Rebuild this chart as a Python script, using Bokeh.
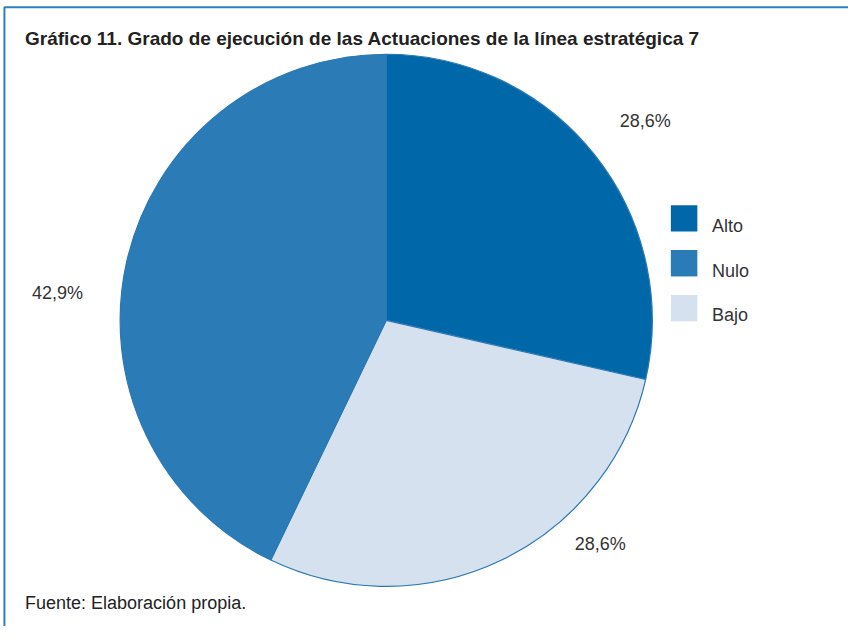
import math
from bokeh.plotting import figure
from bokeh.models import ColumnDataSource, Range1d
from bokeh.core.properties import value
from bokeh.embed import file_html
from bokeh.resources import INLINE

# ---- data ----
categories = ["Alto", "Bajo", "Nulo"]          # clockwise order from 12 o'clock
percentages = [28.6, 28.6, 42.9]
colors = ["#0068a8", "#d6e1ef", "#2b7cb6"]
legend_order = ["Alto", "Nulo", "Bajo"]
pct_labels = ["28,6%", "28,6%", "42,9%"]
title_text = "Gráfico 11. Grado de ejecución de las Actuaciones de la línea estratégica 7"
source_text = "Fuente: Elaboración propia."

W, H = 848, 626
SX, SY = W / 864, H / 642
FONT = "Liberation Sans"

def fx(x):  # reference px -> data x
    return x * SX

def fy(y):  # reference px -> data y
    return H - y * SY

total = sum(percentages)
starts, ends = [], []
a = math.pi / 2
for v in percentages:
    starts.append(a)
    a -= 2 * math.pi * v / total
    ends.append(a)

cx, cy, r = fx(393), fy(328), 272 * (SX + SY) / 2

src = ColumnDataSource(dict(cat=categories, start=starts, end=ends, color=colors))

p = figure(width=W, height=H, output_backend="svg", toolbar_location=None,
           x_range=Range1d(0, W), y_range=Range1d(0, H), min_border=0)
p.axis.visible = False
p.grid.visible = False
p.outline_line_color = None
p.background_fill_color = "white"

p.wedge(x=cx, y=cy, radius=r, start_angle="start", end_angle="end",
        direction="clock", fill_color="color", line_color="#2a78b4",
        line_width=1.2, source=src)

# frame border (top and left)
p.line(x=[fx(4), fx(4), W], y=[0, fy(7), fy(7)], line_color="#2f7fbf", line_width=2)

# title and source
p.text(x=[fx(25)], y=[fy(39)], text=[title_text], text_font=value(FONT),
       text_font_size="19px", text_font_style="bold", text_color="#222222",
       text_baseline="middle", text_align="left")
p.text(x=[fx(25)], y=[fy(618)], text=[source_text], text_font=value(FONT),
       text_font_size="18px", text_color="#222222",
       text_baseline="middle", text_align="left")

# percentage labels
lab_x = [fx(657), fx(611), fx(58)]
lab_y = [fy(124), fy(557), fy(300)]
p.text(x=lab_x, y=lab_y, text=pct_labels, text_font=value(FONT),
       text_font_size="18px", text_color="#333333",
       text_baseline="middle", text_align="center")

# legend (flat squares + labels), laid out in rows
leg_colors = [colors[categories.index(n)] for n in legend_order]
row_y = [fy(223.5 + 46 * k) for k in range(len(legend_order))]
lab_row_y = [fy(231 + 46 * k) for k in range(len(legend_order))]
leg_src = ColumnDataSource(dict(name=legend_order, color=leg_colors,
                                ys=row_y, ly=lab_row_y))
p.rect(x=fx(696.5), y="ys", width=27 * SX, height=27 * SY, fill_color="color",
       line_color=None, source=leg_src)
p.text(x=fx(725), y="ly", text="name", text_font=value(FONT),
       text_font_size="18px", text_color="#333333", text_baseline="middle",
       text_align="left", source=leg_src)

open("out.html", "w").write(file_html(p, INLINE))
